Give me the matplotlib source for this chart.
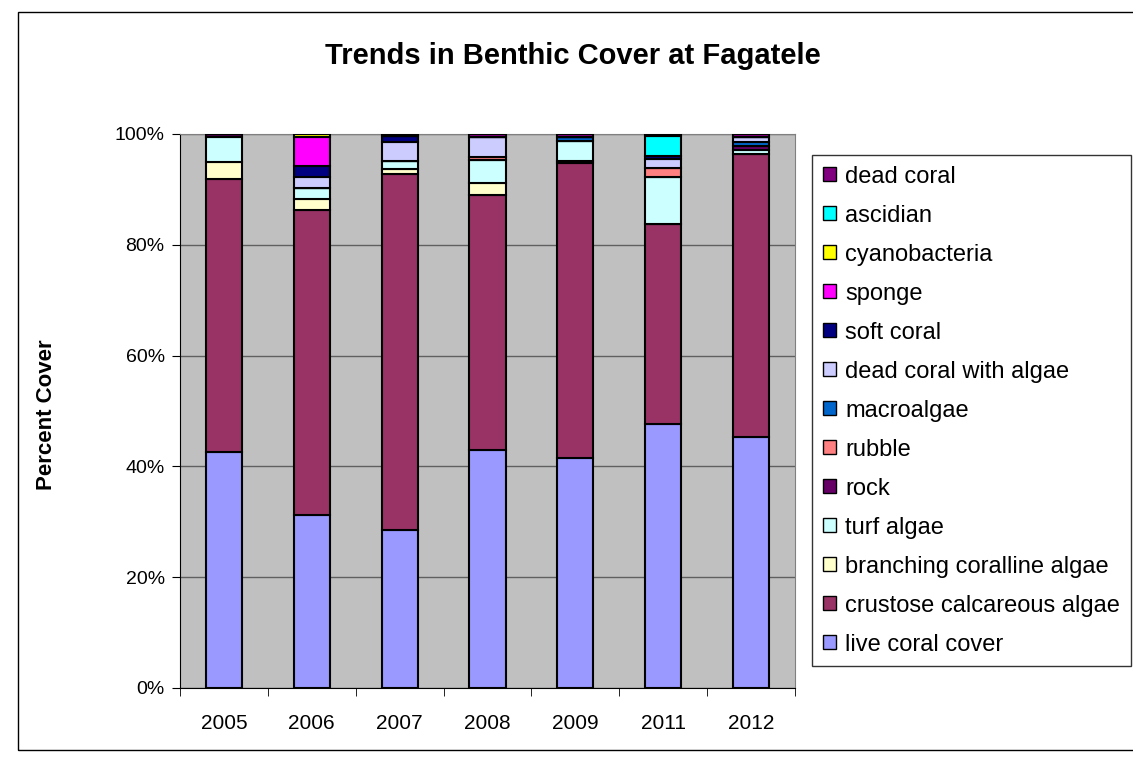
import matplotlib
matplotlib.use("Agg")
import matplotlib.pyplot as plt
from matplotlib.patches import Rectangle, Patch
from matplotlib.ticker import FuncFormatter
import numpy as np

plt.rcParams['font.family'] = ['Liberation Sans', 'DejaVu Sans']

years = ["2005", "2006", "2007", "2008", "2009", "2011", "2012"]

# stacked bottom -> top, percent cover per year
live_coral = [42.6, 31.2, 28.5, 43.0, 41.6, 47.7, 45.3]
crustose = [49.3, 55.0, 64.3, 45.9, 53.1, 36.1, 51.0]
branching = [3.1, 2.1, 0.9, 2.3, 0.4, 0.0, 0.0]
turf = [4.4, 2.0, 1.5, 4.1, 3.6, 8.4, 0.9]
rock = [0.6, 0.0, 0.0, 0.0, 0.0, 0.0, 0.7]
rubble = [0.0, 0.0, 0.0, 0.6, 0.0, 1.7, 0.0]
macroalgae = [0.0, 0.0, 0.0, 0.0, 0.7, 0.0, 0.7]
dead_with_algae = [0.0, 1.9, 3.4, 3.5, 0.0, 1.6, 0.9]
soft_coral = [0.0, 2.1, 1.0, 0.0, 0.0, 0.6, 0.0]
sponge = [0.0, 5.2, 0.0, 0.0, 0.0, 0.0, 0.0]
cyano = [0.0, 0.5, 0.0, 0.0, 0.0, 0.0, 0.0]
ascidian = [0.0, 0.0, 0.0, 0.0, 0.0, 3.5, 0.0]
dead_coral = [0.0, 0.0, 0.4, 0.6, 0.6, 0.4, 0.5]

series = [
    ("live coral cover", live_coral, "#9999FF"),
    ("crustose calcareous algae", crustose, "#993366"),
    ("branching coralline algae", branching, "#FFFFCC"),
    ("turf algae", turf, "#CCFFFF"),
    ("rock", rock, "#660066"),
    ("rubble", rubble, "#FF8080"),
    ("macroalgae", macroalgae, "#0066CC"),
    ("dead coral with algae", dead_with_algae, "#CCCCFF"),
    ("soft coral", soft_coral, "#000080"),
    ("sponge", sponge, "#FF00FF"),
    ("cyanobacteria", cyano, "#FFFF00"),
    ("ascidian", ascidian, "#00FFFF"),
    ("dead coral", dead_coral, "#800080"),
]

fig = plt.figure(figsize=(11.33, 7.6), dpi=100)
fig.patches.append(Rectangle((18 / 1133, 10 / 760), 1, 738 / 760, transform=fig.transFigure,
                             fill=False, edgecolor="black", linewidth=1))

ax = fig.add_axes([180 / 1133, 1 - 688 / 760, 615 / 1133, 554 / 760])
ax.set_facecolor("#C0C0C0")

x = np.arange(len(years))
bottom = np.zeros(len(years))
handles = []
for name, vals, col in series:
    vals = np.array(vals)
    ax.bar(x, vals, 0.41, bottom=bottom, color=col, edgecolor="black", linewidth=1.5, zorder=3)
    bottom = bottom + vals
    handles.append(Patch(facecolor=col, edgecolor="black", linewidth=1))

ax.set_xlim(-0.5, len(years) - 0.5)
ax.set_ylim(0, 100)
ax.set_yticks([0, 20, 40, 60, 80, 100])
ax.yaxis.set_major_formatter(FuncFormatter(lambda v, p: "%d%%" % v))
ax.set_xticks(x)
ax.set_xticklabels(years)
ax.set_xticks(np.arange(-0.5, len(years)), minor=True)
ax.tick_params(axis="x", which="major", length=0, pad=19, labelsize=15)
ax.tick_params(axis="x", which="minor", length=6, direction="out", color="black")
ax.tick_params(axis="y", length=6, direction="out", labelsize=14, pad=5)
ax.grid(axis="y", color="#606060", linewidth=1, zorder=1)
for s in ["top", "right"]:
    ax.spines[s].set_color("#808080")
ax.spines["left"].set_color("black")
ax.spines["bottom"].set_color("black")

fig.text(573 / 1133, 1 - 56 / 760, "Trends in Benthic Cover at Fagatele", ha="center", va="center",
         fontsize=21, fontweight="bold")
fig.text(46 / 1133, 1 - 415 / 760, "Percent Cover", ha="center", va="center", rotation=90,
         fontsize=16, fontweight="bold")

leg = fig.legend(handles[::-1], [s[0] for s in series][::-1], loc="upper left",
                 bbox_to_anchor=(812 / 1133, 1 - 155 / 760), fontsize=17, frameon=True,
                 fancybox=False, edgecolor="black", handlelength=0.55, handleheight=0.55,
                 handletextpad=0.4, labelspacing=0.72, borderpad=0.45, borderaxespad=0)
leg.get_frame().set_linewidth(1)

fig.savefig("out.png", dpi=100)
